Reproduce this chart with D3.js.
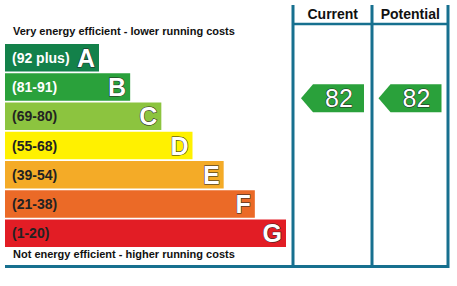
<!DOCTYPE html>
<html>
<head>
<meta charset="utf-8">
<script src="https://cdn.jsdelivr.net/npm/d3@7"></script>
<style>
body{margin:0;background:#fff;}
svg{display:block;font-family:Arial,"Liberation Sans",sans-serif;}
</style>
</head>
<body>
<svg width="457" height="286"></svg>
<script>
// rating bands
var bands = ["A","B","C","D","E","F","G"];
var ranges = ["(92 plus)","(81-91)","(69-80)","(55-68)","(39-54)","(21-38)","(1-20)"];
var bandColors = ["#13814a","#2aa13b","#8cc43f","#fff100","#f4ab27","#eb6a27","#e21d25"];
var rangeText = ["#fff","#fff","#222","#222","#222","#222","#222"];
var columns = ["Current","Potential"];
var ratings = [82, 82];
var ratingBand = ["B","B"];

var svg = d3.select("svg");
var frame = "#17708f";

var y = d3.scaleBand().domain(bands).range([44,247]).paddingInner(0.06).paddingOuter(0);
var xEnd = d3.scaleLinear().domain([0,6]).range([99,286]);
var colX = d3.scaleBand().domain(columns).range([293,448]);

svg.append("text").attr("x",13).attr("y",35).attr("font-size","11px").attr("font-weight","bold")
  .attr("fill","#111").text("Very energy efficient - lower running costs");
svg.append("text").attr("x",13).attr("y",258).attr("font-size","11px").attr("font-weight","bold")
  .attr("fill","#111").text("Not energy efficient - higher running costs");

var g = svg.append("g");
var rows = g.selectAll(".band").data(bands).enter().append("g").attr("class","band");
rows.append("rect")
  .attr("x",5)
  .attr("y",function(d){return y(d);})
  .attr("width",function(d,i){return xEnd(i)-5;})
  .attr("height",y.bandwidth())
  .attr("fill",function(d,i){return bandColors[i];});
rows.append("text")
  .attr("x",12)
  .attr("y",function(d){return y(d)+y.bandwidth()/2+5;})
  .attr("font-size","14px").attr("font-weight","bold")
  .attr("fill",function(d,i){return rangeText[i];})
  .text(function(d,i){return ranges[i];});
rows.append("text")
  .attr("x",function(d,i){return xEnd(i)-4;})
  .attr("y",function(d){return y(d)+y.bandwidth()/2+9;})
  .attr("text-anchor","end")
  .attr("font-size","25px").attr("font-weight","bold")
  .attr("fill","#fff").attr("stroke","#222").attr("stroke-width",1)
  .attr("paint-order","stroke")
  .text(function(d){return d;});

// frame
svg.append("line").attr("x1",5).attr("x2",449).attr("y1",266.5).attr("y2",266.5)
  .attr("stroke",frame).attr("stroke-width",3);
svg.append("line").attr("x1",293).attr("x2",449).attr("y1",24).attr("y2",24)
  .attr("stroke",frame).attr("stroke-width",2.5);
[293,372,448].forEach(function(x){
  svg.append("line").attr("x1",x).attr("x2",x).attr("y1",5).attr("y2",268)
    .attr("stroke",frame).attr("stroke-width",3);
});
svg.selectAll(".head").data(columns).enter().append("text")
  .attr("x",function(d){return colX(d)+colX.bandwidth()/2+1;})
  .attr("y",19).attr("text-anchor","middle")
  .attr("font-size","14px").attr("font-weight","bold").attr("fill","#111")
  .text(function(d){return d;});

// rating arrows
var arrows = svg.selectAll(".arrow").data(columns).enter().append("g").attr("class","arrow")
  .attr("transform",function(d,i){
    return "translate("+(colX(d)+8)+","+(y(ratingBand[i])+11)+")";});
arrows.append("path")
  .attr("d","M0,14 L12,0 L63,0 L63,28 L12,28 Z")
  .attr("fill",function(d,i){return bandColors[bands.indexOf(ratingBand[i])];});
arrows.append("text")
  .attr("x",38).attr("y",23).attr("text-anchor","middle")
  .attr("font-size","25px")
  .attr("fill","#fff").attr("stroke","#222").attr("stroke-width",1)
  .attr("paint-order","stroke")
  .text(function(d,i){return ratings[i];});
</script>
</body>
</html>
